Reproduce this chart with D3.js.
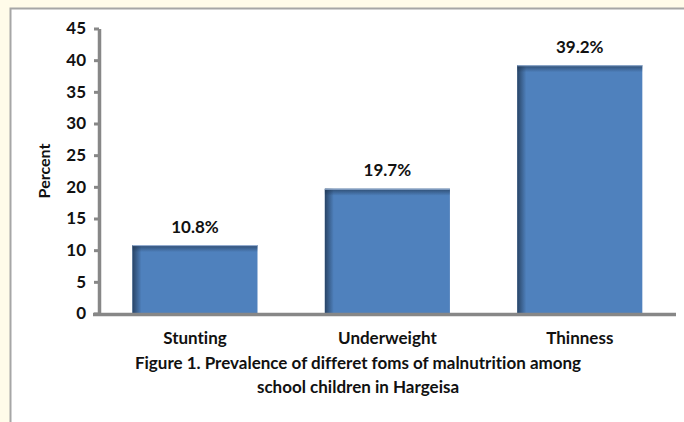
<!DOCTYPE html>
<html>
<head>
<meta charset="utf-8">
<script src="https://cdn.jsdelivr.net/npm/d3@7"></script>
<style>
  html, body { margin: 0; padding: 0; background: #fffbe9; }
  svg { display: block; }
  text { font-family: Lato, "Open Sans", sans-serif; font-weight: 700; fill: #111;
         font-variant-ligatures: none; font-feature-settings: "liga" 0, "clig" 0; }
</style>
</head>
<body>
<svg id="chart" width="684" height="422"></svg>
<script>
// Malnutrition prevalence among school children
const categories = ["Stunting", "Underweight", "Thinness"];
const prevalence = [10.8, 19.7, 39.2];
const valueLabels = ["10.8%", "19.7%", "39.2%"];
const yTicks = [0, 5, 10, 15, 20, 25, 30, 35, 40, 45];
const captionLines = [
  "Figure 1. Prevalence of differet foms of malnutrition among",
  "school children in Hargeisa"
];

const svg = d3.select("#chart");
const W = 684, H = 422;
const FONT = "Lato, 'Open Sans', sans-serif";

// white panel with thin grey border
svg.append("rect").attr("x", 0).attr("y", 0).attr("width", W).attr("height", H).attr("fill", "#fffbe9");
svg.append("rect").attr("x", 10.5).attr("y", 8.5).attr("width", W).attr("height", H + 10)
  .attr("fill", "#ffffff").attr("stroke", "#a6a6a6").attr("stroke-width", 2);

const x = d3.scaleBand().domain(categories).range([98.75, 676]).paddingInner(0.35).paddingOuter(0.175);
const y = d3.scaleLinear().domain([0, 45]).range([313.5, 28.5]);

const defs = svg.append("defs");
const gl = defs.append("linearGradient").attr("id", "shadeLeft").attr("x1", 0).attr("x2", 1).attr("y1", 0).attr("y2", 0);
gl.append("stop").attr("offset", 0).attr("stop-color", "#1f3550").attr("stop-opacity", 0.8);
gl.append("stop").attr("offset", 1).attr("stop-color", "#1f3550").attr("stop-opacity", 0);
const gt = defs.append("linearGradient").attr("id", "shadeTop").attr("x1", 0).attr("x2", 0).attr("y1", 0).attr("y2", 1);
gt.append("stop").attr("offset", 0).attr("stop-color", "#1f3550").attr("stop-opacity", 0.7);
gt.append("stop").attr("offset", 1).attr("stop-color", "#1f3550").attr("stop-opacity", 0);

const data = categories.map((c, i) => ({ c, v: prevalence[i], label: valueLabels[i] }));

const bars = svg.append("g").selectAll("g").data(data).join("g");
bars.append("rect")
  .attr("x", d => x(d.c)).attr("y", d => y(d.v))
  .attr("width", x.bandwidth()).attr("height", d => y(0) - y(d.v))
  .attr("fill", "#4f81bd");
bars.append("rect")
  .attr("x", d => x(d.c)).attr("y", d => y(d.v))
  .attr("width", 9).attr("height", d => y(0) - y(d.v))
  .attr("fill", "url(#shadeLeft)");
bars.append("rect")
  .attr("x", d => x(d.c)).attr("y", d => y(d.v))
  .attr("width", x.bandwidth()).attr("height", 7)
  .attr("fill", "url(#shadeTop)");
bars.append("line")
  .attr("x1", d => x(d.c)).attr("x2", d => x(d.c) + x.bandwidth())
  .attr("y1", d => y(d.v) + 0.5).attr("y2", d => y(d.v) + 0.5)
  .attr("stroke", "#9db6d8").attr("stroke-width", 1);

// value labels
svg.append("g").selectAll("text").data(data).join("text")
  .attr("x", d => x(d.c) + x.bandwidth() / 2)
  .attr("y", d => y(d.v) - 12.5)
  .attr("text-anchor", "middle")
  .attr("font-size", 17)
  .text(d => d.label);

// y axis
const yAxis = svg.append("g").attr("transform", "translate(99,0)")
  .call(d3.axisLeft(y).tickValues(yTicks).tickSize(5).tickSizeOuter(0).tickPadding(8));
yAxis.select(".domain").attr("stroke", "#878787").attr("stroke-width", 3.5);
yAxis.selectAll(".tick line").attr("stroke", "#878787").attr("stroke-width", 3);
yAxis.selectAll(".tick text").attr("font-size", 17).attr("fill", "#111")
  .attr("font-family", FONT).attr("font-weight", 700);

// x axis
const xAxis = svg.append("g").attr("transform", "translate(0,314.5)")
  .call(d3.axisBottom(x).tickSize(0).tickPadding(17));
xAxis.select(".domain").attr("d", "M93,0H676").attr("stroke", "#878787").attr("stroke-width", 3.5);
xAxis.selectAll(".tick text").attr("font-size", 17).attr("fill", "#111")
  .attr("font-family", FONT).attr("font-weight", 700);

// y title
svg.append("text")
  .attr("transform", "translate(50,171) rotate(-90)")
  .attr("text-anchor", "middle")
  .attr("font-size", 16)
  .text("Percent");

// caption
svg.append("g").selectAll("text").data(captionLines).join("text")
  .attr("x", 358).attr("y", (d, i) => 369 + i * 24)
  .attr("text-anchor", "middle")
  .attr("font-size", 17)
  .text(d => d);
</script>
</body>
</html>
